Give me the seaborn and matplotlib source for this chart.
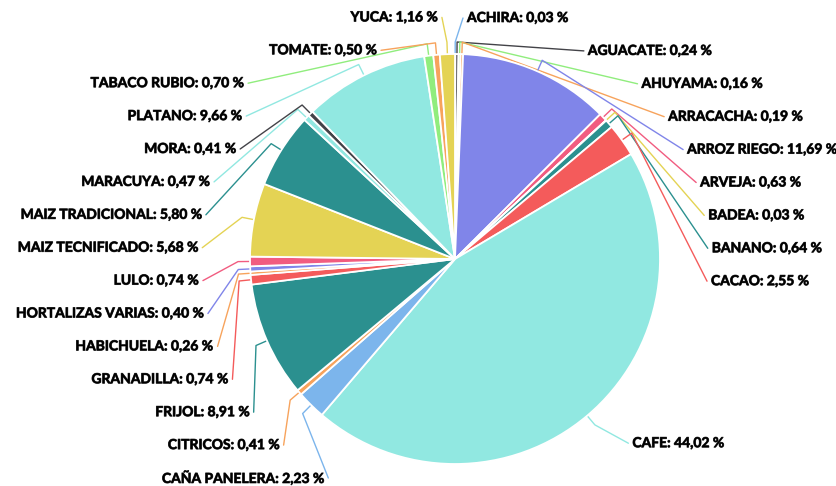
import numpy as np
import matplotlib
matplotlib.use("Agg")
import matplotlib.pyplot as plt
import matplotlib.patheffects as pe
import seaborn as sns

crops = ["ACHIRA", "AGUACATE", "AHUYAMA", "ARRACACHA", "ARROZ RIEGO", "ARVEJA",
         "BADEA", "BANANO", "CACAO", "CAFE", "CAÑA PANELERA", "CITRICOS", "FRIJOL",
         "GRANADILLA", "HABICHUELA", "HORTALIZAS VARIAS", "LULO", "MAIZ TECNIFICADO",
         "MAIZ TRADICIONAL", "MARACUYA", "MORA", "PLATANO", "TABACO RUBIO",
         "TOMATE", "YUCA"]
shares = [0.03, 0.24, 0.16, 0.19, 11.69, 0.63, 0.03, 0.64, 2.55, 44.02, 2.23, 0.41,
          8.91, 0.74, 0.26, 0.40, 0.74, 5.68, 5.80, 0.47, 0.41, 9.66, 0.70, 0.50, 1.16]
colors = ["#7cb5ec", "#434348", "#90ed7d", "#f7a35c", "#8085e9", "#f15c80",
          "#e4d354", "#2b908f", "#f45b5b", "#91e8e1", "#7cb5ec", "#f7a35c",
          "#2b908f", "#f45b5b", "#f7a35c", "#8085e9", "#f15c80", "#e4d354",
          "#2b908f", "#91e8e1", "#434348", "#91e8e1", "#90ed7d", "#f7a35c", "#e4d354"]

# layout tweaks for the crowded labels near the top (pixels)
x_nudge = {"ACHIRA": -69, "AGUACATE": -15, "YUCA": 62, "TOMATE": 69,
           "TABACO RUBIO": -25, "MORA": 13}

sns.set_theme(style="white")
plt.rcParams['font.family'] = ['Lato', 'DejaVu Sans']

W, H = 837, 486
fig = plt.figure(figsize=(W / 100, H / 100), dpi=100)
ax = fig.add_axes([0, 0, 1, 1])

cx, cy_px, R = 455, 259, 205
cy = H - cy_px
ax.pie(shares, colors=sns.color_palette(colors), startangle=90, counterclock=False,
       radius=R, center=(cx, cy),
       wedgeprops=dict(edgecolor="white", linewidth=1.3))
ax.set_xlim(0, W)
ax.set_ylim(0, H)
ax.set_aspect("equal")
ax.axis("off")

vals = np.array(shares)
cum = np.cumsum(vals) - vals / 2
theta = 2 * np.pi * cum / vals.sum()


def spread(ys, gap, top, bottom):
    ys = list(ys)
    for i in range(len(ys)):
        lo = top if i == 0 else ys[i - 1] + gap
        ys[i] = max(ys[i], lo)
    for i in range(len(ys) - 1, -1, -1):
        hi = bottom if i == len(ys) - 1 else ys[i + 1] - gap
        ys[i] = min(ys[i], hi)
    return ys


y_nat = cy_px - 241 * np.cos(theta)
right = [i for i in range(len(vals)) if np.sin(theta[i]) > 0]
left = [i for i in range(len(vals)) if np.sin(theta[i]) <= 0]
label_y = {}
for side in (right, left):
    order = sorted(side, key=lambda i: y_nat[i])
    ys = spread([y_nat[i] for i in order], 32.9, 18, 478)
    for i, y in zip(order, ys):
        label_y[i] = y

Rl = 253
outline = [pe.withStroke(linewidth=0.6, foreground="#333333")]
for i, name in enumerate(crops):
    sgn = 1 if i in right else -1
    y = label_y[i]
    dy = y - cy_px
    ax_x = cx + sgn * np.sqrt(max(Rl ** 2 - dy ** 2, 0)) + x_nudge.get(name, 0)
    t = theta[i]
    p0 = (cx + R * np.sin(t), cy + R * np.cos(t))
    p1 = (cx + (R + 12) * np.sin(t), cy + (R + 12) * np.cos(t))
    p2 = (ax_x, H - y)
    ax.plot([p0[0], p1[0], p2[0]], [p0[1], p1[1], p2[1]], color=colors[i],
            lw=1, solid_joinstyle="round", zorder=0)
    txt = f"{name}: {shares[i]:.2f} %".replace(".", ",")
    ax.text(ax_x + sgn * 4, H - y, txt, ha="left" if sgn > 0 else "right",
            va="center", fontsize=10, fontweight="bold", color="#000000",
            path_effects=outline)

fig.savefig("out.png", dpi=100)
